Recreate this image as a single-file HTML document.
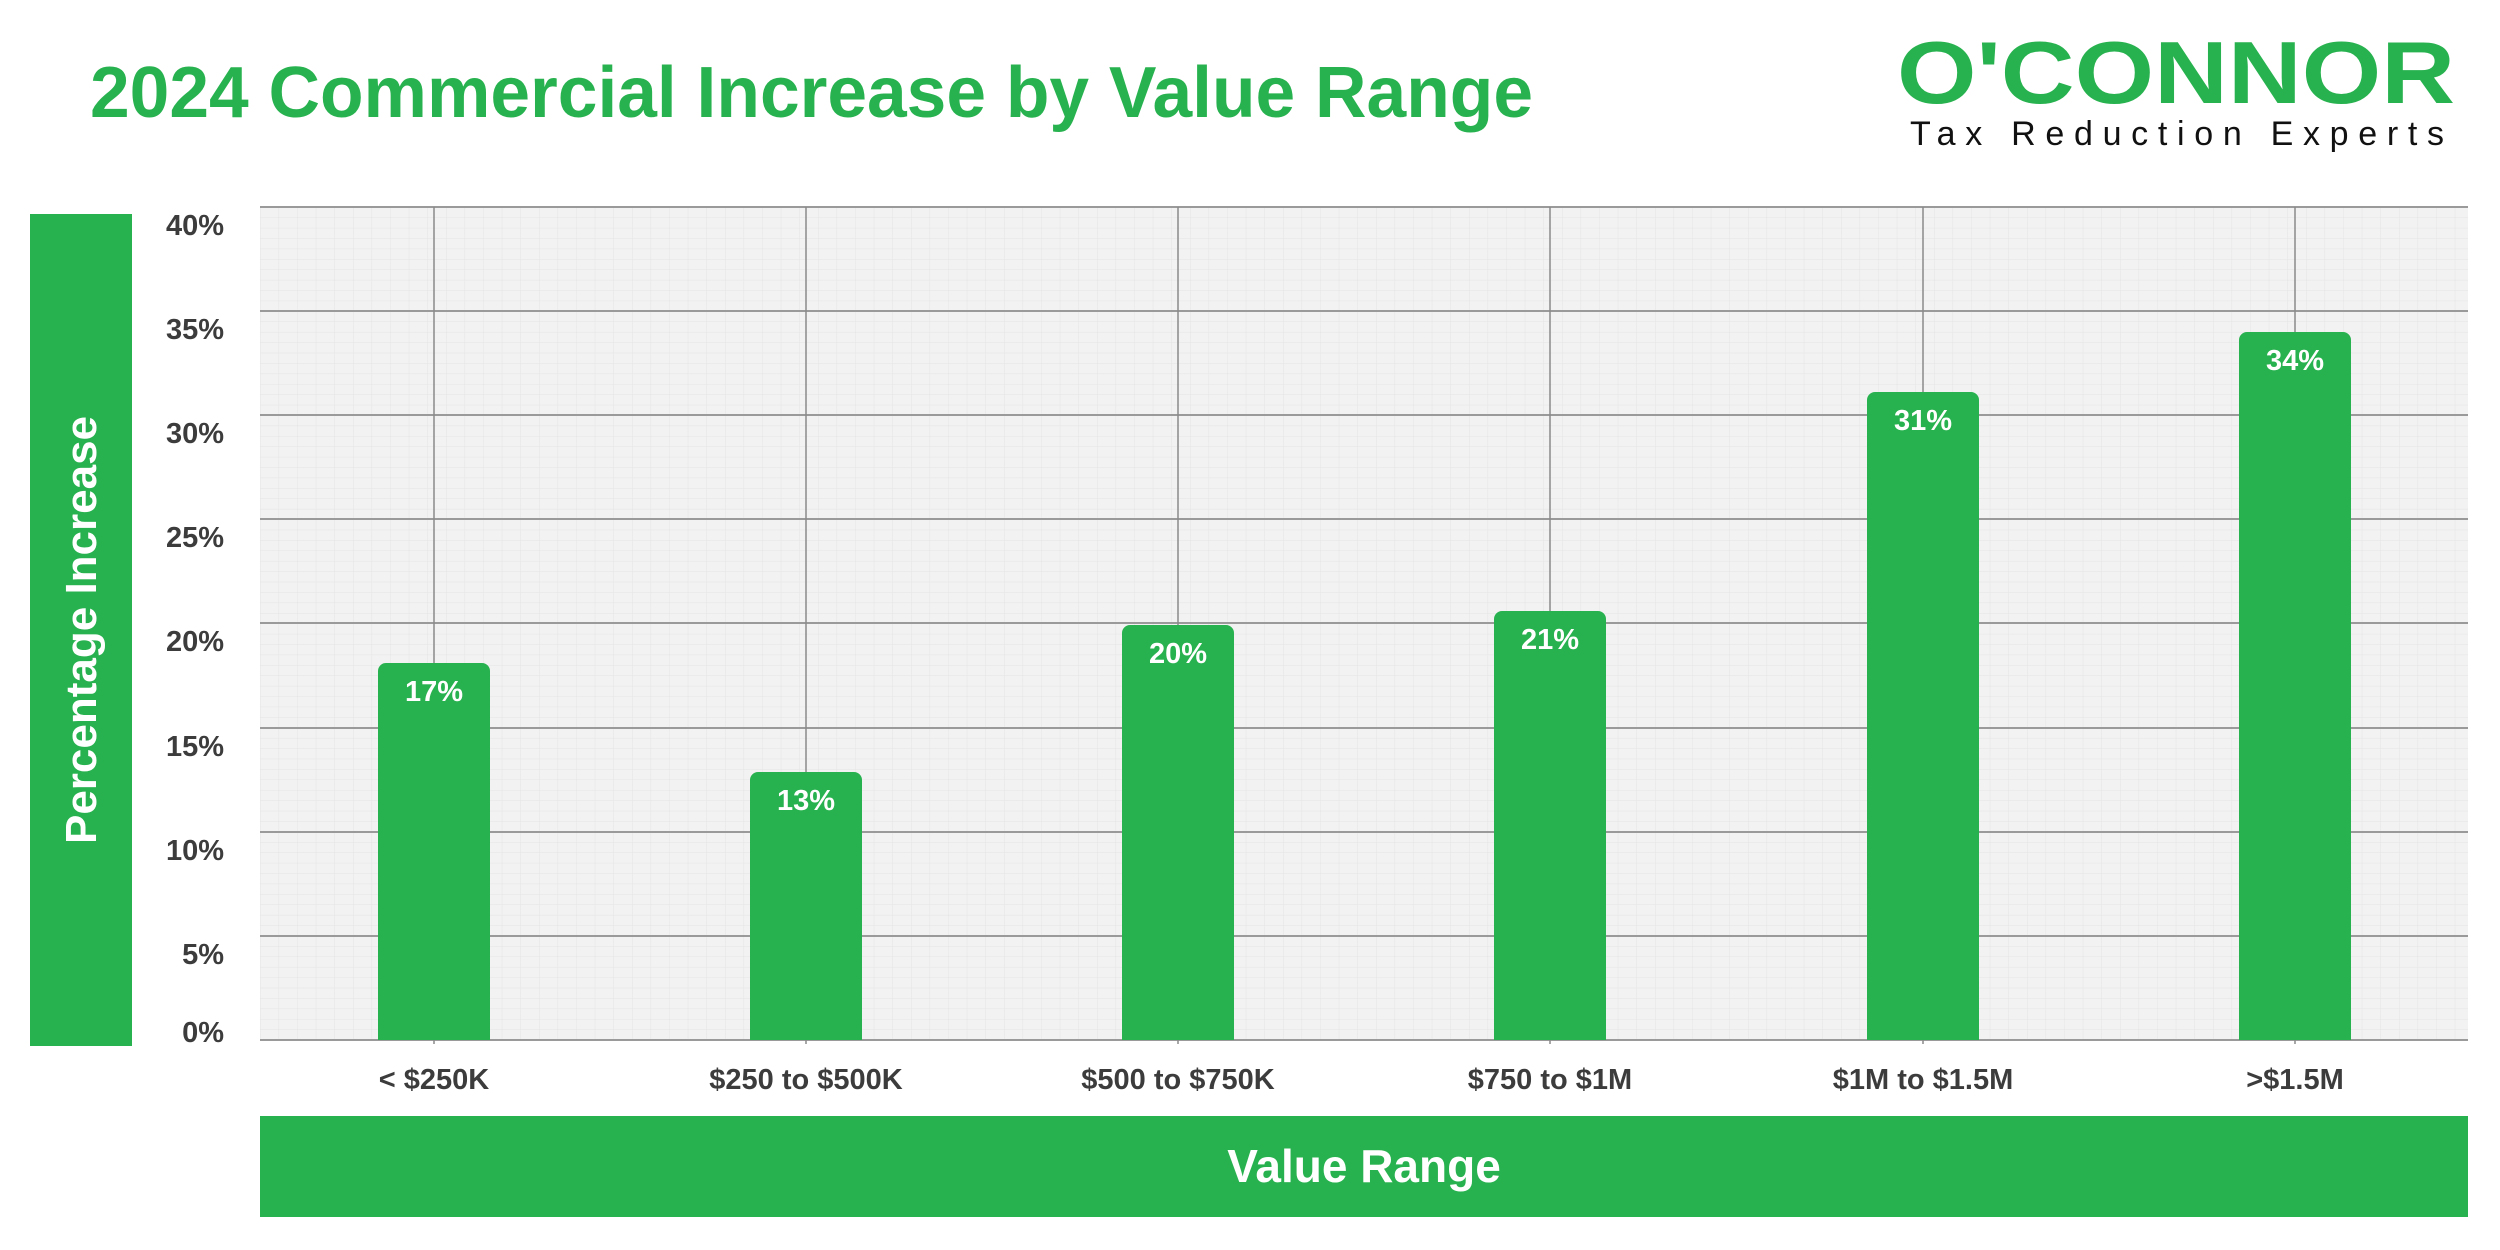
<!DOCTYPE html>
<html><head><meta charset="utf-8"><style>html,body{margin:0;padding:0;background:#fff}svg{display:block}</style></head>
<body>
<svg width="2500" height="1250" viewBox="0 0 2500 1250" xmlns="http://www.w3.org/2000/svg" font-family="Liberation Sans, sans-serif">
<defs>
<pattern id="minor" x="260" y="207" width="18.6" height="10.41" patternUnits="userSpaceOnUse">
<path d="M0 0H18.6M0 0V10.41" stroke="#e4e4e4" stroke-width="1" fill="none"/>
</pattern>
</defs>
<text x="90" y="117" font-size="72" font-weight="bold" fill="#28b24f" textLength="1443" lengthAdjust="spacingAndGlyphs">2024 Commercial Increase by Value Range</text>
<text x="1897" y="103" font-size="88" font-weight="bold" fill="#28b24f" textLength="558" lengthAdjust="spacingAndGlyphs">O'CONNOR</text>
<text x="1910" y="145" font-size="34" fill="#111" textLength="534" lengthAdjust="spacing">Tax Reduction Experts</text>
<rect x="260" y="207" width="2208" height="833" fill="#f2f2f2"/>
<rect x="260" y="207" width="2208" height="833" fill="url(#minor)"/>
<g stroke="#9a9a9a" stroke-width="2">
<line x1="260" x2="2468" y1="207" y2="207"/><line x1="260" x2="2468" y1="311" y2="311"/><line x1="260" x2="2468" y1="415" y2="415"/><line x1="260" x2="2468" y1="519" y2="519"/><line x1="260" x2="2468" y1="623" y2="623"/><line x1="260" x2="2468" y1="728" y2="728"/><line x1="260" x2="2468" y1="832" y2="832"/><line x1="260" x2="2468" y1="936" y2="936"/><line x1="260" x2="2468" y1="1040" y2="1040"/>
</g>
<g stroke="#8a8a8a" stroke-width="1.5">
<line x1="434" x2="434" y1="207" y2="1044"/><line x1="806" x2="806" y1="207" y2="1044"/><line x1="1178" x2="1178" y1="207" y2="1044"/><line x1="1550" x2="1550" y1="207" y2="1044"/><line x1="1923" x2="1923" y1="207" y2="1044"/><line x1="2295" x2="2295" y1="207" y2="1044"/>
</g>
<g fill="#28b24f">
<path d="M378 1040V671a8 8 0 0 1 8-8h96a8 8 0 0 1 8 8V1040z"/>
<path d="M750 1040V780a8 8 0 0 1 8-8h96a8 8 0 0 1 8 8V1040z"/>
<path d="M1122 1040V633a8 8 0 0 1 8-8h96a8 8 0 0 1 8 8V1040z"/>
<path d="M1494 1040V619a8 8 0 0 1 8-8h96a8 8 0 0 1 8 8V1040z"/>
<path d="M1867 1040V400a8 8 0 0 1 8-8h96a8 8 0 0 1 8 8V1040z"/>
<path d="M2239 1040V340a8 8 0 0 1 8-8h96a8 8 0 0 1 8 8V1040z"/>
</g>
<g fill="#fff" font-size="29" font-weight="bold" text-anchor="middle">
<text x="434" y="701">17%</text><text x="806" y="810">13%</text><text x="1178" y="663">20%</text><text x="1550" y="649">21%</text><text x="1923" y="430">31%</text><text x="2295" y="370">34%</text>
</g>
<g fill="#3c3c3c" font-size="29" font-weight="bold" text-anchor="end">
<text x="224" y="235">40%</text><text x="224" y="339">35%</text><text x="224" y="443">30%</text><text x="224" y="547">25%</text><text x="224" y="651">20%</text><text x="224" y="756">15%</text><text x="224" y="860">10%</text><text x="224" y="964">5%</text><text x="224" y="1042">0%</text>
</g>
<g fill="#3c3c3c" font-size="29" font-weight="bold" text-anchor="middle">
<text x="434" y="1089">&lt; $250K</text><text x="806" y="1089">$250 to $500K</text><text x="1178" y="1089">$500 to $750K</text><text x="1550" y="1089">$750 to $1M</text><text x="1923" y="1089">$1M to $1.5M</text><text x="2295" y="1089">&gt;$1.5M</text>
</g>
<rect x="30" y="214" width="102" height="832" fill="#28b24f"/>
<text transform="translate(96,630) rotate(-90)" fill="#fff" font-size="44" font-weight="bold" text-anchor="middle">Percentage Increase</text>
<rect x="260" y="1116" width="2208" height="101" fill="#28b24f"/>
<text x="1364" y="1182" fill="#fff" font-size="46" font-weight="bold" text-anchor="middle">Value Range</text>
</svg>
</body></html>
